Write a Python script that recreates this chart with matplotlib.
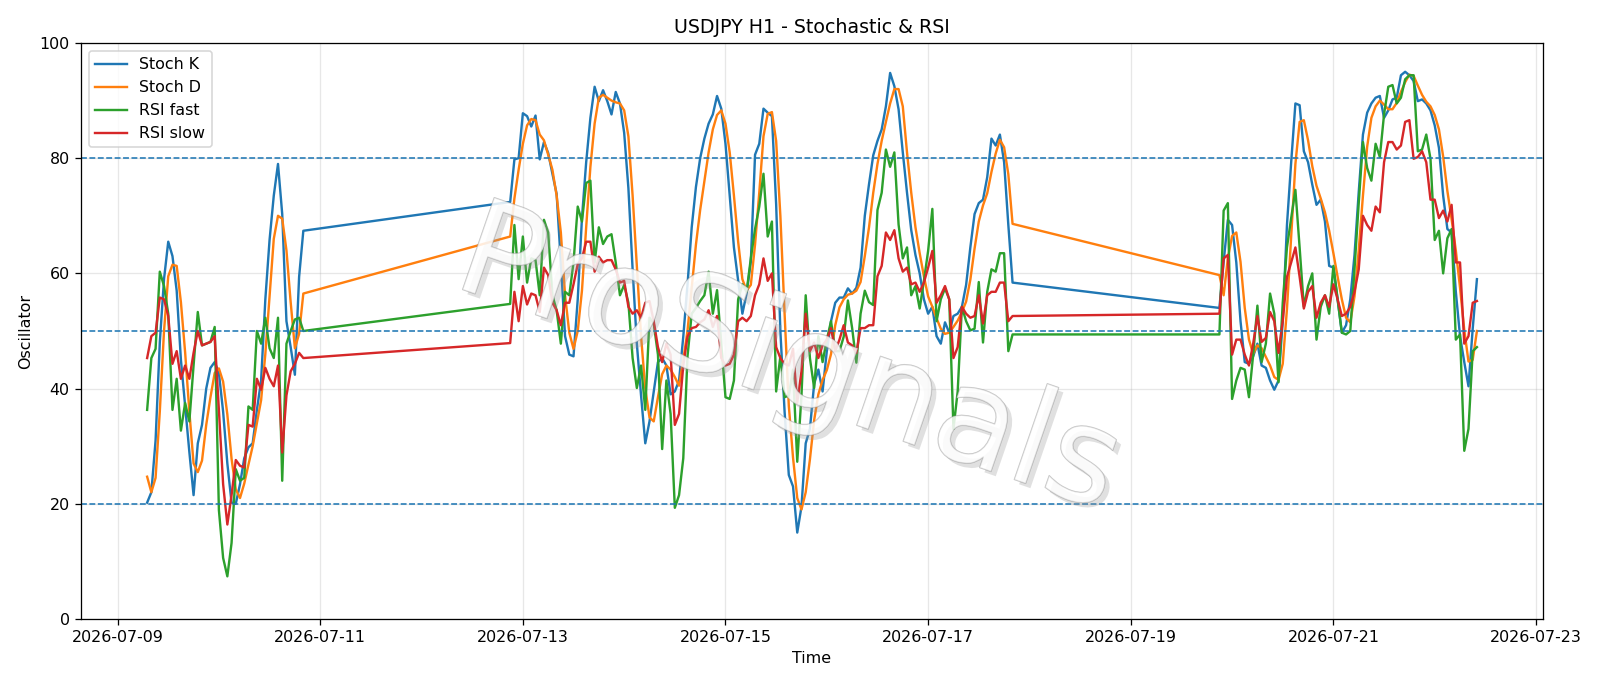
import matplotlib
matplotlib.use("Agg")
import matplotlib.pyplot as plt
import matplotlib.dates as mdates
import matplotlib.patheffects as pe
import pandas as pd

# hourly bars, three sessions (weekend gaps between them)
sessions = [("2026-07-09 07:00", "2026-07-10 20:00"),
            ("2026-07-12 21:00", "2026-07-17 20:00"),
            ("2026-07-19 21:00", "2026-07-22 10:00")]

stoch_k_a = [20.2, 22, 31, 48, 59, 65.5, 63, 57, 45, 37, 29, 21.5, 30.5, 33.7, 40, 43.6, 44.6, 42.7, 36, 27,
             20.2, 20, 23.4, 27.9, 29.8, 30.5, 36.3, 41.4, 55.5, 65.8, 73.5, 79, 70.3, 51.7, 47.2, 42.4, 59.4, 67.4]
stoch_k_b = [72.4, 79.8, 80, 87.8, 87.3, 85.5, 87.4, 79.8, 82.8, 80.9, 77.3, 73.8, 61.9, 49.1, 45.9, 45.6, 55.5, 69.6, 79.3, 87,
             92.4, 89.9, 91.8, 89.9, 87.6, 91.5, 89.5, 84.4, 74.8, 60.7, 47.8, 38.8, 30.5, 34.3, 39.5, 44.6, 45.3, 44, 39, 39.5,
             41.4, 49, 58, 68, 75, 80, 83.4, 86, 87.6, 90.8, 88.6, 82.5, 73.5, 64.5, 58.7, 53, 56.5, 62, 80.6, 82.5,
             88.6, 87.9, 87.3, 72, 50, 36, 25, 23, 15, 19.5, 30.5, 33, 40.8, 43.3, 39.5, 46.5, 51.7, 54.9, 55.8, 55.8,
             57.4, 56.5, 57.5, 61, 70, 75.5, 80.5, 83, 85, 89, 94.8, 92.5, 88.5, 81, 74, 67.5, 63.2, 60, 55.5, 53,
             54.2, 49.1, 47.8, 51.5, 49.7, 52.6, 53, 54.2, 58, 64.5, 70.3, 72.2, 72.8, 76.7, 83.4, 82.2, 84.1, 79.3, 68.4, 58.4]
stoch_k_c = [54, 62, 69.3, 68.4, 61.9, 51.7, 44.6, 44.3, 45.6, 47.8, 44, 43.6, 41.4, 39.8, 41.4, 51.7, 68.4, 79.3, 89.5, 89.2,
             81.2, 79.3, 75.4, 71.9, 72.8, 69, 61.3, 61, 55.5, 49.7, 51, 55.5, 63.2, 74.1, 84.1, 87.9, 89.5, 90.5, 90.8, 87,
             88.3, 90.2, 90.5, 94.4, 95, 94.4, 93.4, 89.9, 90.2, 89.5, 88.3, 85.7, 81.8, 73.5, 67.7, 67.1, 56.8, 49.1, 44.6, 40.4,
             50.4, 59]

stoch_d_a = [24.7, 22, 24.5, 36, 50, 59.5, 61.5, 61.3, 55, 46.3, 36, 27, 25.5, 27.5, 33.7, 38.5, 42.7, 43.5, 41.2, 35.5,
             27.8, 22.5, 21, 23.5, 26.8, 30, 34, 38, 46, 56, 66, 70, 69.5, 64, 55, 47, 49.5, 56.5]
stoch_d_b = [66.4, 73, 78, 82.5, 85.7, 86.8, 86.6, 84.1, 83.1, 80.6, 78, 73.5, 67.1, 56.2, 49.7, 46.9, 50, 57, 68, 78.5,
             86, 90.5, 91, 90.5, 90, 89.7, 89.5, 88.3, 83.8, 73.5, 61.3, 49.1, 40, 35, 34.3, 38.5, 42.5, 44, 43.3, 42,
             40.5, 45, 50, 57.5, 65, 71, 76, 81, 85, 87.5, 88.3, 86, 81, 73.5, 65.5, 59, 57, 58, 65, 74,
             83.8, 87.7, 88, 83, 70, 53, 37, 28, 21, 19, 22, 27.7, 34.5, 39, 41.5, 43.2, 46, 51, 54.1, 55.5,
             56.3, 56.5, 57, 58.5, 63, 68, 74, 79, 83, 86.3, 89.5, 92, 92, 89, 81, 74, 68, 63.5, 59.5, 56,
             54.2, 52.2, 50.4, 49.5, 49.7, 50.7, 51.8, 53.3, 55.1, 58.9, 64.3, 69, 71.8, 73.9, 77.6, 80.8, 83.2, 81.9, 77.2, 68.6]
stoch_d_c = [59.7, 56.2, 62.6, 66.5, 67.1, 62, 54, 48.5, 46, 47.5, 47, 45.5, 44, 42, 41.5, 44.3, 53.8, 66.5, 79, 86.3,
             86.6, 83.1, 78.6, 75.2, 73, 70.6, 67.4, 63.5, 59.4, 55.5, 52.3, 51.5, 56, 64, 73.5, 82, 87, 89, 90, 89.3,
             88.5, 88.5, 89.6, 91.5, 93.2, 94.5, 94.3, 92.6, 91, 89.8, 89, 87.5, 85, 80.3, 74.3, 69.4, 64, 57.5, 50.2, 44.7,
             45, 50]

rsi_fast_a = [36.3, 45.3, 46.9, 60.3, 57.8, 53, 36.3, 41.7, 32.7, 37.5, 34.3, 44, 53.3, 47.5, 47.8, 48.1, 50.7, 18.9, 10.6, 7.4,
              13.2, 26, 24, 24.5, 36.9, 36.3, 50, 47.8, 52.3, 47, 45.3, 52.3, 24, 47.8, 50, 52, 52.3, 50]
rsi_fast_b = [54.7, 68.4, 59, 66.4, 58.4, 62.6, 62.3, 56.2, 69.3, 67.1, 56.2, 53.6, 47.8, 56.8, 56.2, 61.9, 71.6, 69, 75.7, 76.1,
              61.9, 68, 65.1, 66.4, 66.8, 61.9, 56.2, 58, 54.9, 45.3, 40.1, 44, 36.3, 52.3, 51.3, 45.9, 29.5, 41.4, 35.6, 19.3,
              21.5, 27.9, 45.6, 53, 54, 55.2, 56.2, 60.3, 53, 57.1, 47.8, 38.5, 38.2, 41.4, 55.5, 58.1, 56.8, 62.6, 67.7, 71.6,
              77.3, 66.4, 69, 39.5, 45.6, 38.5, 38.8, 43.3, 27.3, 38.8, 56.2, 45.3, 40.1, 49.1, 44.6, 48.5, 51.7, 46.5, 46.5, 49,
              55.3, 50.5, 44.5, 53, 57, 55, 54.5, 71, 74, 81.5, 78.5, 81, 68.5, 62.6, 64.5, 56.2, 57.8, 53.9, 58.7, 63.9,
              71.2, 51.7, 55.5, 57.4, 55.5, 33, 39.5, 54.2, 51.7, 50.1, 50.4, 58.5, 48, 56.8, 60.7, 60.3, 63.5, 63.5, 46.5, 49.4]
rsi_fast_c = [49.4, 70.9, 72.2, 38.2, 41.4, 43.6, 43.3, 38.5, 45.9, 54.4, 44.6, 47.8, 56.5, 53, 41.1, 54.9, 64.5, 69.6, 74.5, 64.5,
              54.2, 57.8, 60, 48.5, 54.2, 56.2, 53, 61.3, 55.5, 49.7, 49.4, 50, 60.7, 72.2, 82.8, 78.3, 76.1, 82.5, 80.2, 87.6,
              92.4, 92.7, 89.5, 90.5, 93.7, 94.4, 94.4, 81.2, 81.5, 84.1, 79.9, 65.8, 67.4, 60, 66.1, 67.7, 48.5, 49.4, 29.2, 33,
              46.5, 47.2]

rsi_slow_a = [45.3, 49.1, 49.7, 55.8, 55.5, 52.6, 44.3, 46.5, 41.7, 44, 41.7, 46.2, 50, 47.5, 47.8, 48.1, 49.1, 36.3, 23.4, 16.4,
              21.5, 27.6, 26.6, 26.3, 33.7, 33.4, 41.7, 39.8, 43.6, 41.7, 40.4, 44, 28.9, 38.8, 43, 44.3, 46.2, 45.3]
rsi_slow_b = [47.9, 56.8, 51.7, 57.8, 54.6, 56.5, 56.2, 53.3, 61, 59.7, 54.9, 53.6, 51, 54.9, 54.9, 58.1, 61.6, 62.6, 65.5, 65.5,
              60.3, 62.9, 61.9, 62.3, 62.3, 60.7, 58.4, 58.7, 54.2, 53, 53.6, 52.3, 54.9, 55.2, 51.7, 47.2, 44.6, 47.8, 45.9, 33.7,
              35.6, 44, 49, 50.5, 50.7, 51.5, 52, 53.6, 50.7, 52.6, 45.3, 44, 44.3, 45.9, 51.7, 52.3, 51.7, 52.6, 56.2, 58.1,
              62.6, 58.7, 60, 47.2, 45.3, 44.3, 44, 46.9, 37.5, 43, 53, 46.5, 48, 45.3, 47.5, 48.5, 50.5, 46.5, 48.5, 51,
              48, 47.5, 46.2, 50.5, 50.5, 51, 51, 59.5, 61.3, 67.1, 65.8, 67.5, 62.6, 60.3, 61, 58.1, 58.4, 56.8, 58.4, 61,
              63.9, 54.9, 56.2, 57.8, 55.5, 45.3, 47.2, 54.2, 53, 52.3, 52.6, 56.2, 51.3, 56.2, 56.8, 56.8, 58.4, 58.4, 51.7, 52.6]
rsi_slow_c = [53, 62.6, 63.2, 45.9, 48.5, 48.5, 45.9, 44, 47.8, 52.6, 48.1, 48.8, 53.3, 51.7, 46.2, 51.7, 59.4, 61.9, 64.5, 59.4,
              53.9, 56.8, 57.8, 52.3, 54.9, 56.2, 54.2, 58.1, 55.5, 52.6, 53, 54.2, 56.8, 60.7, 70, 68.4, 67.4, 71.6, 70.6, 79.3,
              82.8, 82.8, 81.5, 82.2, 86.3, 86.6, 79.9, 80.2, 81.2, 79.3, 72.8, 72.8, 69.6, 70.9, 69, 71.9, 61.9, 61.9, 47.8, 49.1,
              54.9, 55.2]

times = pd.DatetimeIndex([])
for start, end in sessions:
    times = times.append(pd.date_range(start, end, freq="h"))

df = pd.DataFrame({
    "Stoch K": stoch_k_a + stoch_k_b + stoch_k_c,
    "Stoch D": stoch_d_a + stoch_d_b + stoch_d_c,
    "RSI fast": rsi_fast_a + rsi_fast_b + rsi_fast_c,
    "RSI slow": rsi_slow_a + rsi_slow_b + rsi_slow_c,
}, index=times)

fig, ax = plt.subplots(figsize=(14, 6.0025), dpi=114.29)
fig.subplots_adjust(left=0.0504, right=0.9646, top=0.9373, bottom=0.0977)

for col in df.columns:
    ax.plot(df.index, df[col], label=col)

for level in (80, 50, 20):
    ax.axhline(level, linestyle="--", linewidth=1)

ax.set_ylim(0, 100)
ax.set_title("USDJPY H1 - Stochastic & RSI")
ax.set_xlabel("Time")
ax.set_ylabel("Oscillator")
ax.xaxis.set_major_locator(mdates.DayLocator(bymonthday=range(1, 32, 2)))
ax.xaxis.set_major_formatter(mdates.DateFormatter("%Y-%m-%d"))
ax.grid(True, alpha=0.3)
ax.legend(loc="upper left")

# watermark: pale fill, thin grey edge, soft drop shadow
ax.text(0.484, 0.445, "ProSignals", transform=ax.transAxes, fontsize=84,
        rotation=-19, ha="center", va="center",
        color="white", alpha=0.45, zorder=5,
        path_effects=[pe.withSimplePatchShadow(offset=(3, -3), shadow_rgbFace="#9a9a9a", alpha=0.3),
                      pe.Stroke(linewidth=0.8, foreground="#888888", alpha=0.5), pe.Normal()])

fig.savefig("out.png", dpi=114.29)
